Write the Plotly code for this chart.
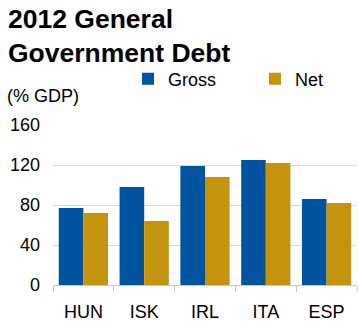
import plotly.graph_objects as go

categories = ["HUN", "ISK", "IRL", "ITA", "ESP"]
gross = [77, 98, 119, 125, 86]
net = [72, 64, 108, 122, 82]
y_ticks = [0, 40, 80, 120, 160]

BLUE = "#00539F"
GOLD = "#C5940D"
FONT = "Liberation Sans, Arial, sans-serif"

W, H = 358, 324
L, R, T, B = 53, 1, 125, 39
PW, PH = W - L - R, H - T - B


def px_x(x):
    return (x - L) / PW


def px_y(y):
    return (H - B - y) / PH


fig = go.Figure()
fig.add_trace(go.Bar(name="Gross", x=categories, y=gross, marker_color=BLUE, marker_line_width=0))
fig.add_trace(go.Bar(name="Net", x=categories, y=net, marker_color=GOLD, marker_line_width=0))

fig.update_layout(
    width=W, height=H,
    margin=dict(l=L, r=R, t=T, b=B, autoexpand=False),
    paper_bgcolor="white", plot_bgcolor="white",
    barmode="group", bargap=0.19, bargroupgap=0,
    font=dict(family=FONT, size=18, color="black"),
    showlegend=True,
    legend=dict(
        orientation="h", x=128 / W, xref="container", y=1 - 79 / H, yref="container",
        xanchor="left", yanchor="middle",
        entrywidth=82, entrywidthmode="pixels",
        itemwidth=30, font=dict(size=18), bgcolor="rgba(0,0,0,0)",
        traceorder="normal",
    ),
    xaxis=dict(
        showgrid=False, showline=True, linecolor="#C8C8C8", linewidth=1,
        ticks="outside", tickson="boundaries", ticklen=6, tickcolor="#C8C8C8",
        tickfont=dict(size=18), ticklabelstandoff=10, fixedrange=True,
    ),
    yaxis=dict(
        range=[0, 160], tickvals=y_ticks, showgrid=True, gridcolor="#D9D9D9",
        gridwidth=1, zeroline=False, showline=False, ticks="",
        tickfont=dict(size=18), ticklabelstandoff=12, fixedrange=True,
    ),
    annotations=[
        dict(text="<b>2012 General<br>Government Debt</b>", xref="paper", yref="paper",
             x=px_x(6), y=px_y(2), showarrow=False, xanchor="left", yanchor="top",
             align="left", font=dict(size=26.5, family=FONT)),
        dict(text="(% GDP)", xref="paper", yref="paper", x=px_x(5), y=px_y(96),
             showarrow=False, xanchor="left", yanchor="middle",
             font=dict(size=18, family=FONT)),
    ],
)

fig.write_html("out.html")
